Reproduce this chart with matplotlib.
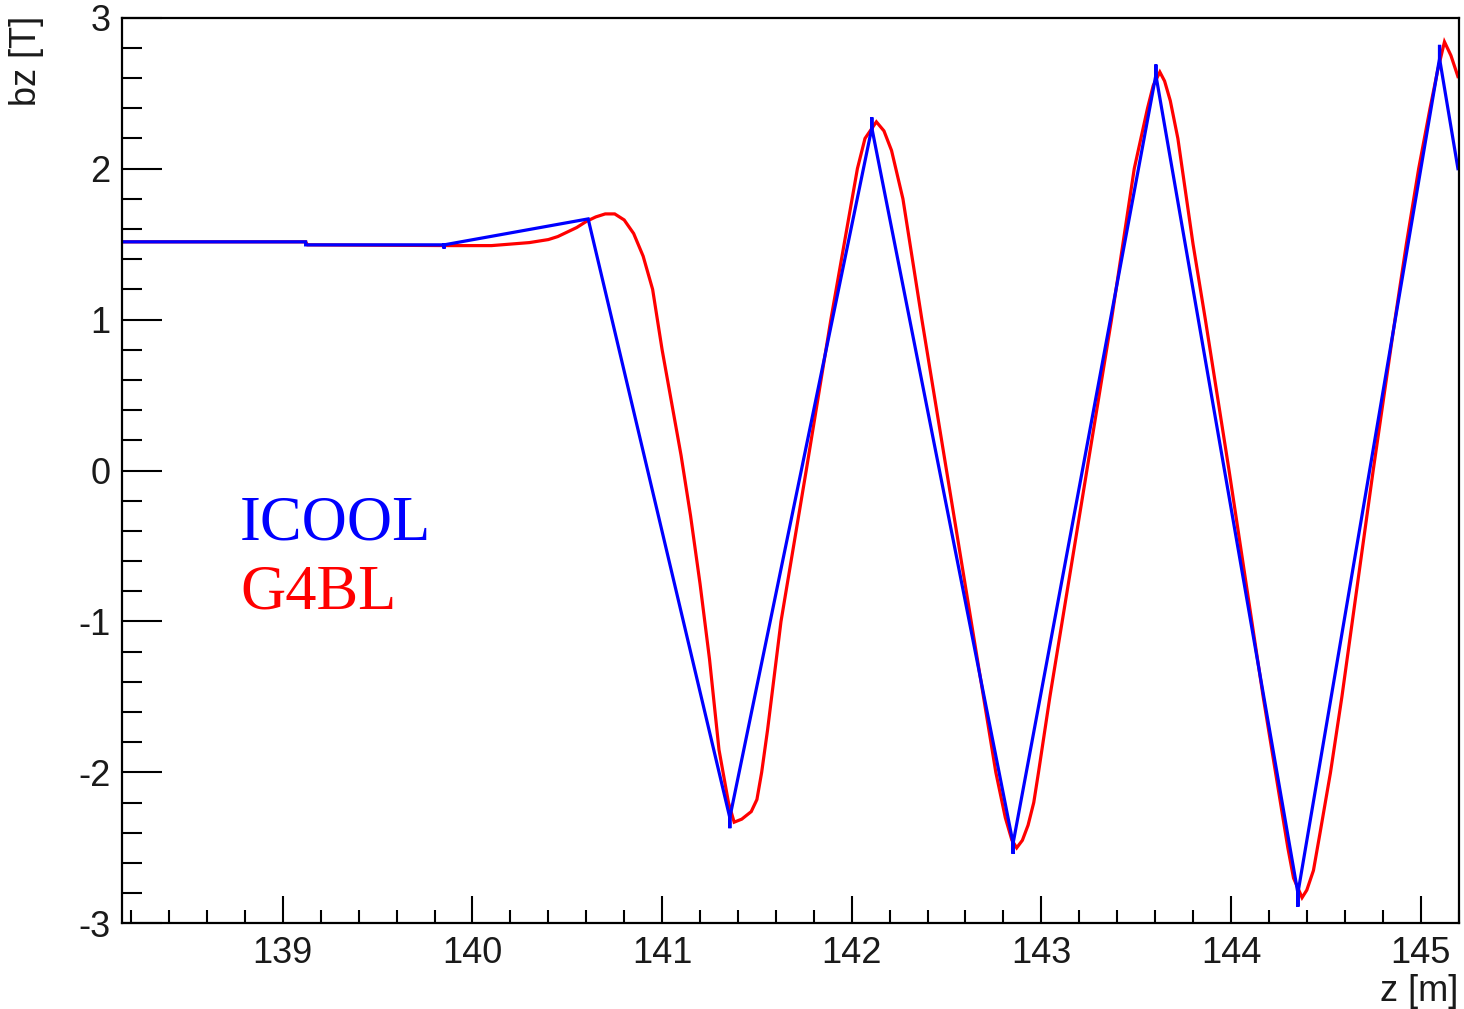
import matplotlib
matplotlib.use("Agg")
import matplotlib.pyplot as plt
from matplotlib.ticker import MultipleLocator

plt.rcParams['axes.unicode_minus'] = False
plt.rcParams['font.family'] = ['Liberation Sans', 'DejaVu Sans']

# ICOOL (blue) field samples along z
icool_z = [138.15, 139.12, 139.12, 139.85, 139.85, 139.85, 140.61,
           141.357, 141.357, 141.357, 142.106, 142.106, 142.106,
           142.851, 142.851, 142.851, 143.604, 143.604, 143.604,
           144.353, 144.353, 144.353, 145.10, 145.10, 145.10, 145.197]
icool_bz = [1.515, 1.515, 1.495, 1.495, 1.47, 1.495, 1.667,
            -2.30, -2.37, -2.30, 2.27, 2.34, 2.27,
            -2.47, -2.54, -2.47, 2.62, 2.69, 2.62,
            -2.80, -2.89, -2.80, 2.73, 2.82, 2.73, 2.0]

# G4BL (red) field samples along z
g4bl_z = [138.15, 139.12, 139.13, 139.9, 140.0, 140.1, 140.2, 140.3, 140.4,
          140.45, 140.5, 140.55, 140.6, 140.65, 140.7, 140.75, 140.8, 140.85,
          140.9, 140.95, 141.0, 141.05, 141.1, 141.15, 141.2, 141.25, 141.3,
          141.35, 141.38, 141.42, 141.47, 141.50, 141.525, 141.556, 141.627,
          141.76, 141.89, 141.96, 142.03, 142.07, 142.13,
          142.17, 142.21, 142.27, 142.37, 142.50, 142.63, 142.695, 142.76,
          142.81, 142.845, 142.87,
          142.90, 142.93, 142.96, 142.985, 143.045, 143.11, 143.24, 143.37,
          143.43, 143.49, 143.56, 143.59, 143.625,
          143.65, 143.68, 143.72, 143.80, 143.865, 143.99, 144.11, 144.17,
          144.235, 144.30, 144.33, 144.375,
          144.40, 144.435, 144.47, 144.525, 144.585, 144.64, 144.75, 144.865,
          144.925, 144.99, 145.05, 145.09, 145.126, 145.16, 145.197]
g4bl_bz = [1.515, 1.515, 1.495, 1.49, 1.49, 1.49, 1.50, 1.51, 1.53,
           1.55, 1.58, 1.61, 1.65, 1.68, 1.70, 1.70, 1.66, 1.57,
           1.42, 1.20, 0.80, 0.45, 0.10, -0.30, -0.75, -1.25, -1.85,
           -2.20, -2.33, -2.31, -2.26, -2.18, -2.00, -1.72, -1.00,
           0.00, 1.00, 1.50, 2.00, 2.20, 2.31,
           2.25, 2.12, 1.80, 1.00, 0.00, -1.00, -1.50, -2.00,
           -2.30, -2.45, -2.50,
           -2.45, -2.35, -2.20, -2.00, -1.50, -1.00, 0.00, 1.00,
           1.50, 2.00, 2.40, 2.55, 2.64,
           2.58, 2.45, 2.20, 1.50, 1.00, 0.00, -1.00, -1.50,
           -2.00, -2.50, -2.70, -2.83,
           -2.78, -2.65, -2.40, -2.00, -1.50, -1.00, 0.00, 1.00,
           1.50, 2.00, 2.40, 2.65, 2.84, 2.75, 2.61]

series_labels = ["ICOOL", "G4BL"]
series_colors = ["#0000ff", "#ff0000"]

W, H = 1464, 1009
fig = plt.figure(figsize=(W / 100, H / 100), dpi=100)
ax = fig.add_axes([121.7 / W, 1 - 923.3 / H, (1458.5 - 121.7) / W, (923.3 - 17.7) / H])

ax.plot(g4bl_z, g4bl_bz, color=series_colors[1], lw=2.3, solid_joinstyle='miter')
ax.plot(icool_z, icool_bz, color=series_colors[0], lw=2.3, solid_joinstyle='miter')

ax.set_xlim(138.15, 145.2)
ax.set_ylim(-3, 3)

ax.xaxis.set_major_locator(MultipleLocator(1))
ax.xaxis.set_minor_locator(MultipleLocator(0.2))
ax.yaxis.set_major_locator(MultipleLocator(1))
ax.yaxis.set_minor_locator(MultipleLocator(0.2))

for s in ax.spines.values():
    s.set_linewidth(1.6)
    s.set_color('black')

ax.tick_params(axis='x', which='major', direction='in', length=19.4, width=1.5,
               labelsize=26, pad=9, top=False)
ax.tick_params(axis='x', which='minor', direction='in', length=9.7, width=1.5, top=False)
ax.tick_params(axis='y', which='major', direction='in', length=28.8, width=1.5,
               labelsize=26, pad=8, right=False)
ax.tick_params(axis='y', which='minor', direction='in', length=14.4, width=1.5, right=False)

for lab in ax.get_xticklabels() + ax.get_yticklabels():
    lab.set_color('#1a1a1a')

fig.text(1458 / W, 1 - 1001 / H, "z [m]", ha='right', va='baseline', fontsize=26, color='#1a1a1a')
fig.text(44 / W, 1 - 16 / H, "bz [T]", ha='right', va='bottom', rotation=90, fontsize=26,
         color='#1a1a1a', rotation_mode='anchor')

ax.text(0.0885, 0.4233, series_labels[0], transform=ax.transAxes, ha='left', va='baseline',
        fontsize=45, color=series_colors[0], family=['Liberation Serif', 'DejaVu Serif'])
ax.text(0.0885, 0.348, series_labels[1], transform=ax.transAxes, ha='left', va='baseline',
        fontsize=45, color=series_colors[1], family=['Liberation Serif', 'DejaVu Serif'])

fig.savefig("out.png", dpi=100, facecolor='white')
